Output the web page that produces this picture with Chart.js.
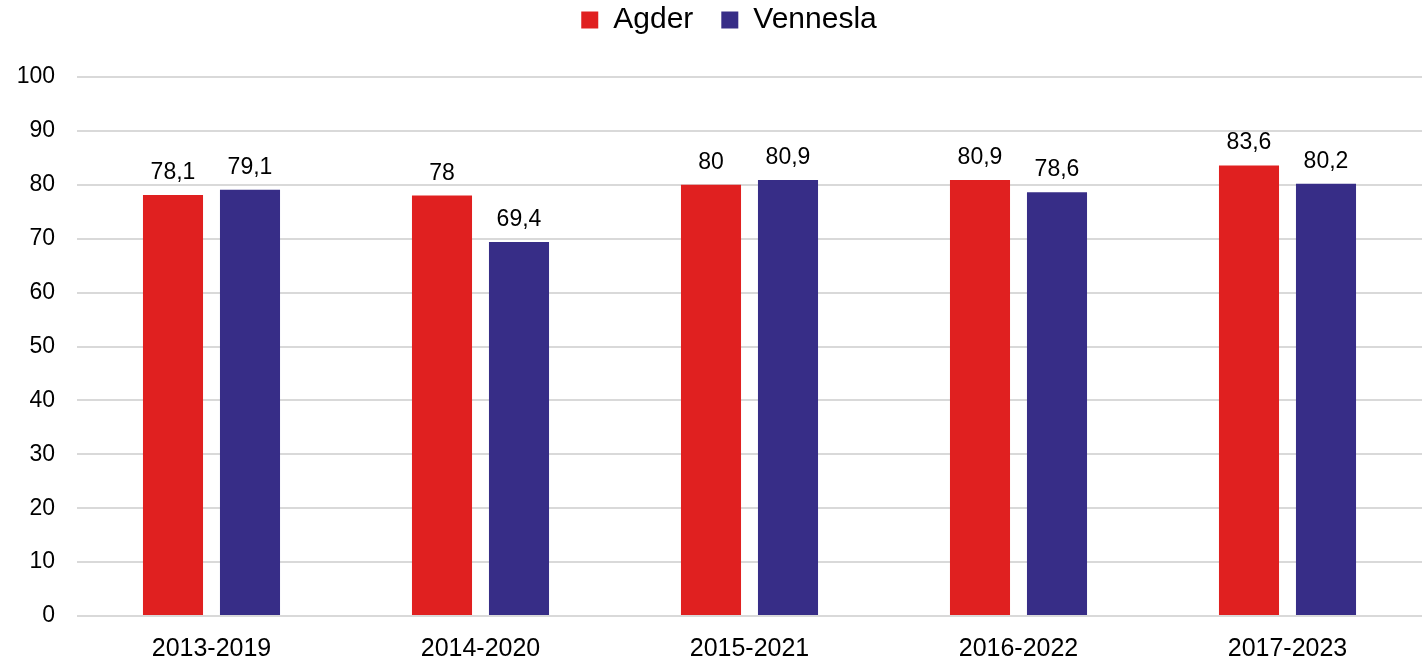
<!DOCTYPE html>
<html>
<head>
<meta charset="utf-8">
<script src="https://cdn.jsdelivr.net/npm/chart.js@4/dist/chart.umd.min.js"></script>
<style>
html,body{margin:0;padding:0;background:#fff;}
#wrap{width:1427px;height:660px;position:relative;}
</style>
</head>
<body>
<div id="wrap"><canvas id="c" width="1427" height="660"></canvas></div>
<script>
const categories = ['2013-2019','2014-2020','2015-2021','2016-2022','2017-2023'];
const agder = [78.1, 78, 80, 80.9, 83.6];
const vennesla = [79.1, 69.4, 80.9, 78.6, 80.2];
const seriesNames = ['Agder','Vennesla'];
const seriesColors = ['#E02020','#372D87'];

const FONT = "'Liberation Sans', Arial, sans-serif";

const fmt = v => String(v).replace('.', ',');

const legendHeightPlugin = {
  id: 'legendHeight',
  beforeInit(chart) {
    const orig = chart.legend.fit;
    chart.legend.fit = function() { orig.call(this); this.height = 77; };
  },
  beforeDraw(chart) {
    chart.legend.top = -23;
    chart.legend.left = 36;
  }
};

const labelPlugin = {
  id: 'barLabels',
  afterDatasetsDraw(chart) {
    const ctx = chart.ctx;
    ctx.save();
    ctx.font = '23px ' + FONT;
    ctx.fillStyle = '#000';
    ctx.textAlign = 'center';
    ctx.textBaseline = 'alphabetic';
    chart.data.datasets.forEach((ds, i) => {
      const meta = chart.getDatasetMeta(i);
      meta.data.forEach((bar, j) => {
        ctx.fillText(fmt(ds.data[j]), bar.x, bar.y - 16);
      });
    });
    ctx.restore();
  }
};

new Chart(document.getElementById('c'), {
  type: 'bar',
  data: {
    labels: categories,
    datasets: [
      { label: seriesNames[0], data: agder, backgroundColor: seriesColors[0], categoryPercentage: 0.5725, barPercentage: 0.78 },
      { label: seriesNames[1], data: vennesla, backgroundColor: seriesColors[1], categoryPercentage: 0.5725, barPercentage: 0.78 }
    ]
  },
  options: {
    responsive: false,
    animation: false,
    devicePixelRatio: 1,
    layout: { padding: { left: 0, right: 5, top: 0, bottom: 0 } },
    plugins: {
      legend: {
        display: true,
        position: 'top',
        labels: {
          font: { family: FONT, size: 30 },
          color: '#000',
          boxWidth: 17,
          boxHeight: 17,
          padding: 28
        }
      },
      tooltip: { enabled: false }
    },
    scales: {
      x: {
        grid: { display: false, drawTicks: false },
        border: { display: false },
        ticks: { font: { family: FONT, size: 25 }, color: '#000', padding: 18, maxRotation: 0 },
        afterFit(s) { s.height = 44; }
      },
      y: {
        min: 0, max: 100,
        grid: { color: '#D9D9D9', lineWidth: 2, drawTicks: false },
        border: { display: false },
        ticks: { stepSize: 10, font: { family: FONT, size: 23 }, color: '#000', padding: 22 },
        afterFit(s) { s.width = 77; }
      }
    }
  },
  plugins: [legendHeightPlugin, labelPlugin]
});
</script>
</body>
</html>
